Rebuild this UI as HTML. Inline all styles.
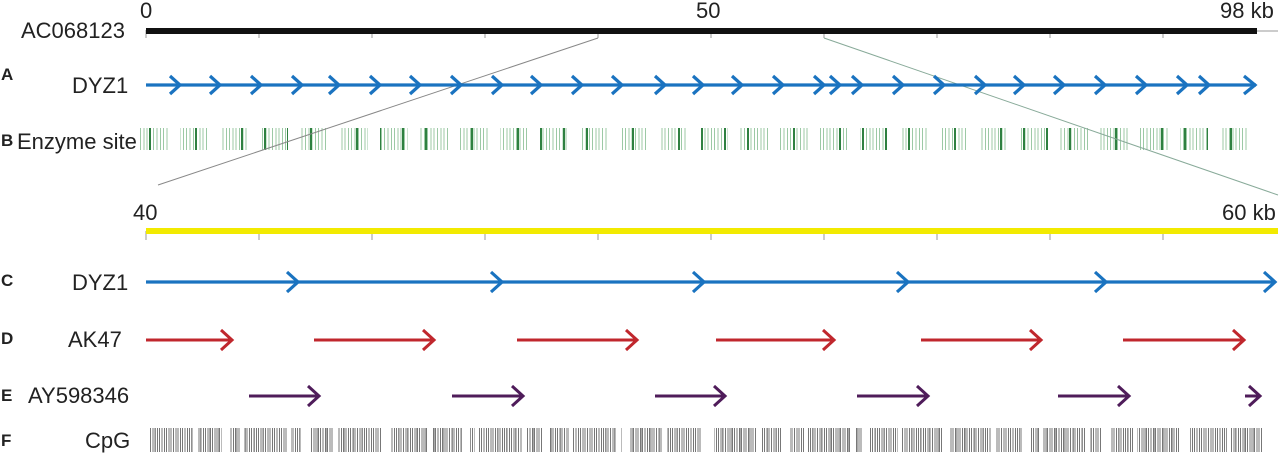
<!DOCTYPE html>
<html><head><meta charset="utf-8"><style>
body{margin:0;background:#fff;width:1280px;height:454px;overflow:hidden;position:relative;font-family:"Liberation Sans",sans-serif}
.t{position:absolute;font-size:22px;color:#222;line-height:1}
.b{position:absolute;font-size:17px;font-weight:bold;color:#222;line-height:1}
.enz{position:absolute;left:140px;top:128px;width:1118px;height:22px;
background:repeating-linear-gradient(90deg,transparent 0 28px,#fff 28px 40px),
repeating-linear-gradient(90deg,transparent 0 9px,#2e8040 9px 11px,transparent 11px 23px),
repeating-linear-gradient(90deg,#9cc9a5 0 1px,transparent 1px 3.3px);}
.cpg{position:absolute;left:150px;top:428px;width:1118px;height:24px;
background:repeating-linear-gradient(90deg,transparent 0 72px,#fff 72px 80px),
repeating-linear-gradient(90deg,transparent 0 43px,#fff 43px 47px),
repeating-linear-gradient(90deg,#777 0 1px,transparent 1px 2.3px),
repeating-linear-gradient(90deg,transparent 0 5px,#aaa 5px 6px,transparent 6px 9px);}
</style></head><body>
<div class="enz"></div><div class="cpg"></div>
<svg width="1280" height="454" style="position:absolute;left:0;top:0">
<g stroke="#999" stroke-width="1">
<line x1="146" y1="30" x2="146" y2="38"/><line x1="259" y1="30" x2="259" y2="38"/><line x1="372" y1="30" x2="372" y2="38"/><line x1="485" y1="30" x2="485" y2="38"/><line x1="598" y1="30" x2="598" y2="38"/><line x1="711" y1="30" x2="711" y2="38"/><line x1="824" y1="30" x2="824" y2="38"/><line x1="937" y1="30" x2="937" y2="38"/><line x1="1050" y1="30" x2="1050" y2="38"/><line x1="1163" y1="30" x2="1163" y2="38"/>
<line x1="1257" y1="31" x2="1278" y2="31"/>
<line x1="146" y1="231" x2="146" y2="240"/><line x1="259" y1="231" x2="259" y2="240"/><line x1="372" y1="231" x2="372" y2="240"/><line x1="485" y1="231" x2="485" y2="240"/><line x1="598" y1="231" x2="598" y2="240"/><line x1="711" y1="231" x2="711" y2="240"/><line x1="824" y1="231" x2="824" y2="240"/><line x1="937" y1="231" x2="937" y2="240"/><line x1="1050" y1="231" x2="1050" y2="240"/><line x1="1163" y1="231" x2="1163" y2="240"/>
</g>
<line x1="598" y1="38" x2="158" y2="185" stroke="#888" stroke-width="1"/>
<line x1="824" y1="38" x2="1278" y2="195" stroke="#8a9" stroke-width="1"/>
<rect x="146" y="28" width="1111" height="6" fill="#111"/>
<rect x="146" y="228" width="1132" height="6" fill="#f2ea00"/>
<g stroke="#1a73c0" stroke-width="3.2" fill="none">
<line x1="146" y1="85" x2="1256" y2="85"/>
<path d="M170 76l10 9-10 9M210 76l10 9-10 9M251 76l10 9-10 9M292 76l10 9-10 9M329 76l10 9-10 9M370 76l10 9-10 9M410 76l10 9-10 9M451 76l10 9-10 9M492 76l10 9-10 9M531 76l10 9-10 9M572 76l10 9-10 9M612 76l10 9-10 9M655 76l10 9-10 9M693 76l10 9-10 9M732 76l10 9-10 9M773 76l10 9-10 9M814 76l10 9-10 9M830 76l10 9-10 9M852 76l10 9-10 9M893 76l10 9-10 9M934 76l10 9-10 9M975 76l10 9-10 9M1014 76l10 9-10 9M1054 76l10 9-10 9M1095 76l10 9-10 9M1136 76l10 9-10 9M1177 76l10 9-10 9M1199 76l10 9-10 9M1244 76l11 9-11 9"/>
<line x1="146" y1="282" x2="1275" y2="282"/>
<path d="M287 272l11 10-11 10M491 272l11 10-11 10M693 272l11 10-11 10M897 272l11 10-11 10M1095 272l11 10-11 10M1264 272l11 10-11 10"/>
</g>
<g stroke="#c0272d" stroke-width="3" fill="none">
<path d="M146 340h86M314 340h120M517 340h120M716 340h118M921 340h120M1123 340h121"/>
<path d="M221 330l11 10-11 10M423 330l11 10-11 10M626 330l11 10-11 10M823 330l11 10-11 10M1030 330l11 10-11 10M1233 330l11 10-11 10"/>
</g>
<g stroke="#4f1c5a" stroke-width="3" fill="none">
<path d="M249 396h70M452 396h71M655 396h70M857 396h71M1058 396h71M1245 396h15"/>
<path d="M308 386l11 10-11 10M512 386l11 10-11 10M714 386l11 10-11 10M917 386l11 10-11 10M1118 386l11 10-11 10M1249 386l11 10-11 10"/>
</g>
</svg>
<div class="t" style="left:140px;top:0px">0</div>
<div class="t" style="left:696px;top:0px">50</div>
<div class="t" style="left:1220px;top:0px">98 kb</div>
<div class="t" style="left:21px;top:20px">AC068123</div>
<div class="t" style="left:72px;top:75px">DYZ1</div>
<div class="t" style="left:17px;top:131px">Enzyme site</div>
<div class="t" style="left:133px;top:202px">40</div>
<div class="t" style="left:1222px;top:202px">60 kb</div>
<div class="t" style="left:72px;top:272px">DYZ1</div>
<div class="t" style="left:68px;top:329px">AK47</div>
<div class="t" style="left:28px;top:385px">AY598346</div>
<div class="t" style="left:85px;top:430px">CpG</div>
<div class="b" style="left:1px;top:66px">A</div>
<div class="b" style="left:1px;top:132px">B</div>
<div class="b" style="left:1px;top:272px">C</div>
<div class="b" style="left:1px;top:330px">D</div>
<div class="b" style="left:1px;top:387px">E</div>
<div class="b" style="left:1px;top:432px">F</div>
</body></html>
